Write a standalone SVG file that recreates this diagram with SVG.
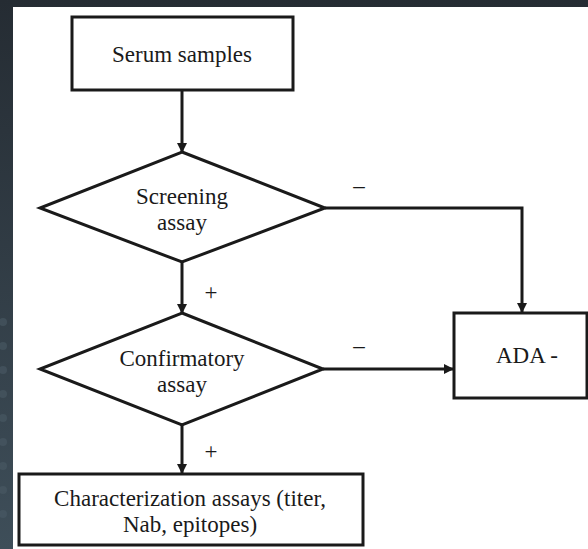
<svg xmlns="http://www.w3.org/2000/svg" width="588" height="549" viewBox="0 0 588 549">
<style>
.shape{fill:#fff;stroke:#1a1a1a;stroke-width:3}
.line{fill:none;stroke:#1a1a1a;stroke-width:3}
.t{font-family:'Liberation Serif','DejaVu Serif',serif;font-size:23px;fill:#1a1a1a;text-anchor:middle}
</style>
<defs>
<linearGradient id="bg" x1="0" y1="0" x2="0" y2="1">
<stop offset="0" stop-color="#252c33"/>
<stop offset="1" stop-color="#3e4e59"/>
</linearGradient>
<marker id="ah" markerWidth="10" markerHeight="10" refX="9" refY="5" orient="auto" markerUnits="userSpaceOnUse">
<path d="M0,0 L10,5 L0,10 Z" fill="#1a1a1a"/>
</marker>
</defs>
<rect x="0" y="0" width="588" height="549" fill="url(#bg)"/>
<g fill="#4a5a65" opacity="0.6">
<circle cx="3" cy="322" r="4"/><circle cx="3" cy="346" r="4"/><circle cx="3" cy="370" r="4"/><circle cx="3" cy="394" r="4"/><circle cx="3" cy="418" r="4"/><circle cx="3" cy="442" r="4"/><circle cx="3" cy="466" r="4"/><circle cx="3" cy="490" r="4"/><circle cx="3" cy="514" r="4"/>
</g>
<rect x="13" y="7" width="575" height="542" fill="#fff"/>

<g id="connectors">
<line class="line" x1="182" y1="90" x2="182" y2="152" marker-end="url(#ah)"/>
<line class="line" x1="182" y1="262" x2="182" y2="313" marker-end="url(#ah)"/>
<polyline class="line" points="325,208 522,208 522,312" marker-end="url(#ah)"/>
<line class="line" x1="323" y1="369" x2="453" y2="369" marker-end="url(#ah)"/>
<line class="line" x1="182" y1="425" x2="182" y2="473" marker-end="url(#ah)"/>
<text class="t" x="359" y="193">–</text>
<text class="t" x="359" y="353">–</text>
<text class="t" x="211" y="300">+</text>
<text class="t" x="211" y="459">+</text>
</g>

<g id="serum">
<rect class="shape" x="72" y="17" width="221" height="73"/>
<text class="t" x="182" y="62">Serum samples</text>
</g>

<g id="screening">
<polygon class="shape" points="182,152 325,208 182,262 40,208"/>
<text class="t" x="182" y="204">Screening</text>
<text class="t" x="182" y="230">assay</text>
</g>

<g id="confirmatory">
<polygon class="shape" points="182,313 323,369 182,425 40,369"/>
<text class="t" x="182" y="366">Confirmatory</text>
<text class="t" x="182" y="392">assay</text>
</g>

<g id="ada">
<rect class="shape" x="454" y="313" width="133" height="85"/>
<text class="t" x="527" y="363">ADA -</text>
</g>

<g id="characterization">
<rect class="shape" x="19" y="474" width="344" height="71"/>
<text class="t" x="190" y="506">Characterization assays (titer,</text>
<text class="t" x="190" y="532">Nab, epitopes)</text>
</g>
</svg>
